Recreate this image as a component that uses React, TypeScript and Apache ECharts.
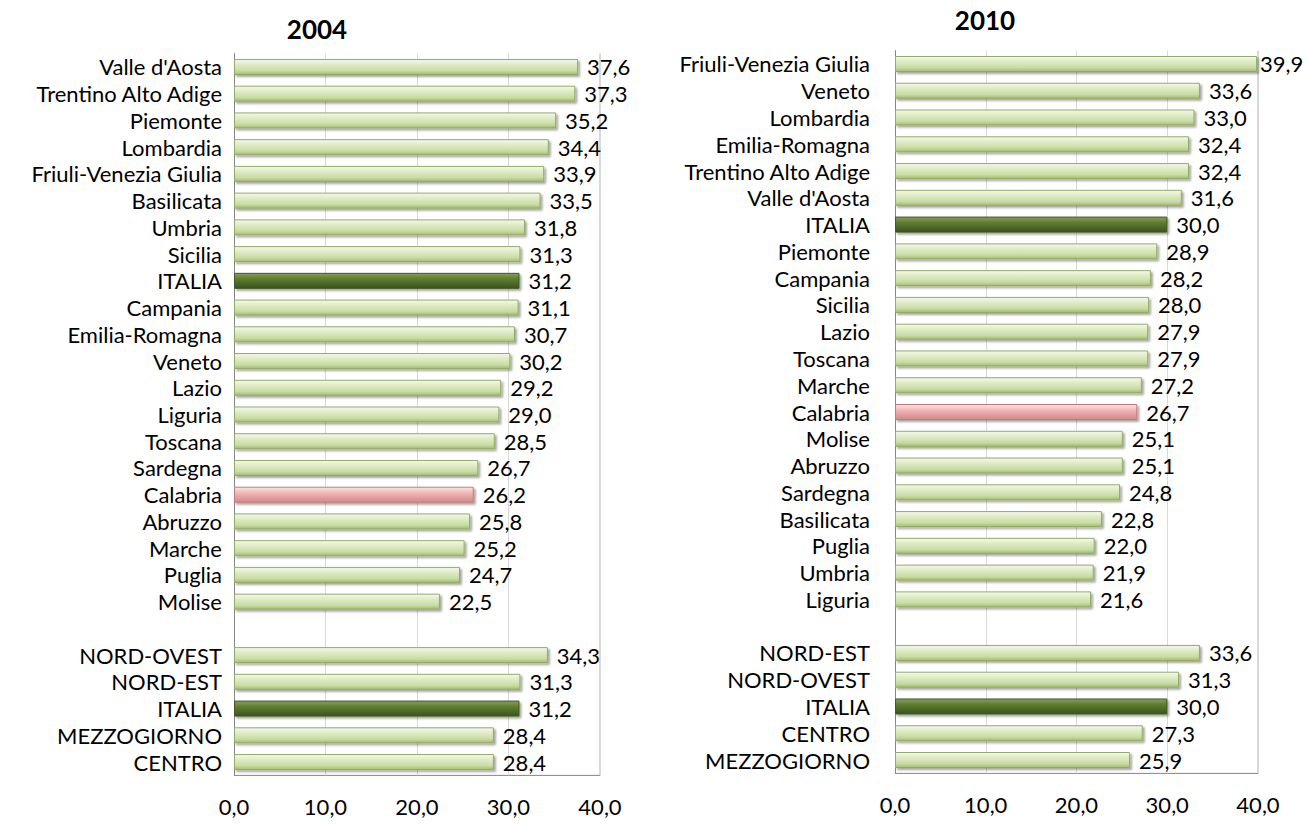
import React, { useEffect, useRef } from "react";
import * as echarts from "echarts";

const cats2004 = [
  "Valle d'Aosta", "Trentino Alto Adige", "Piemonte", "Lombardia", "Friuli-Venezia Giulia",
  "Basilicata", "Umbria", "Sicilia", "ITALIA", "Campania", "Emilia-Romagna", "Veneto",
  "Lazio", "Liguria", "Toscana", "Sardegna", "Calabria", "Abruzzo", "Marche", "Puglia",
  "Molise", "", "NORD-OVEST", "NORD-EST", "ITALIA", "MEZZOGIORNO", "CENTRO",
];
const vals2004 = [
  37.6, 37.3, 35.2, 34.4, 33.9, 33.5, 31.8, 31.3, 31.2, 31.1, 30.7, 30.2, 29.2, 29.0,
  28.5, 26.7, 26.2, 25.8, 25.2, 24.7, 22.5, null, 34.3, 31.3, 31.2, 28.4, 28.4,
];
const cats2010 = [
  "Friuli-Venezia Giulia", "Veneto", "Lombardia", "Emilia-Romagna", "Trentino Alto Adige",
  "Valle d'Aosta", "ITALIA", "Piemonte", "Campania", "Sicilia", "Lazio", "Toscana",
  "Marche", "Calabria", "Molise", "Abruzzo", "Sardegna", "Basilicata", "Puglia", "Umbria",
  "Liguria", "", "NORD-EST", "NORD-OVEST", "ITALIA", "CENTRO", "MEZZOGIORNO",
];
const vals2010 = [
  39.9, 33.6, 33.0, 32.4, 32.4, 31.6, 30.0, 28.9, 28.2, 28.0, 27.9, 27.9, 27.2, 26.7,
  25.1, 25.1, 24.8, 22.8, 22.0, 21.9, 21.6, null, 33.6, 31.3, 30.0, 27.3, 25.9,
];
const titles = ["2004", "2010"];
const axisMin = 0;
const axisMax = 40;
const axisStep = 10;

const FONT = "Lato";
const FS = 22;
const LH = 22;

function grad(stops: [number, string][]) {
  return new echarts.graphic.LinearGradient(0, 0, 0, 1,
    stops.map(([offset, color]) => ({ offset, color })));
}

function styleFor(name: string) {
  if (name === "ITALIA") {
    return {
      color: grad([[0, "#86a356"], [0.35, "#5f7f33"], [1, "#3b531d"]]),
      borderColor: "#3f5a20",
    };
  }
  if (name === "Calabria") {
    return {
      color: grad([[0, "#fde4e4"], [0.4, "#f2b4b4"], [1, "#cf8b8b"]]),
      borderColor: "#c07c7c",
    };
  }
  return {
    color: grad([[0, "#f4f9e8"], [0.35, "#dfebc4"], [0.75, "#c9dca2"], [1, "#a3bb77"]]),
    borderColor: "#93ab68",
  };
}

const fmt = (v: number) => v.toFixed(1).replace(".", ",");

function build(cats: string[], vals: (number | null)[], grid: any, yIdx: number, labelMargin: number) {
  return {
    grid,
    xAxis: {
      type: "value",
      gridIndex: yIdx,
      min: axisMin,
      max: axisMax,
      interval: axisStep,
      axisLine: { show: false },
      axisTick: { show: false },
      splitLine: { show: true, lineStyle: { color: "#d9d9d9", width: 1 } },
      axisLabel: {
        formatter: (v: number) => fmt(v),
        fontFamily: FONT,
        fontSize: FS,
        color: "#000",
        margin: 20,
        lineHeight: LH,
      },
    },
    yAxis: {
      type: "category",
      gridIndex: yIdx,
      inverse: true,
      data: cats,
      axisLine: { show: true, onZero: false, lineStyle: { color: "#868686" } },
      axisTick: { show: false },
      axisLabel: {
        fontFamily: FONT, fontSize: FS, color: "#000", margin: labelMargin,
        interval: 0, lineHeight: LH,
      },
    },
    series: {
      type: "bar",
      xAxisIndex: yIdx,
      yAxisIndex: yIdx,
      barWidth: 16,
      data: vals.map((v, i) => ({
        value: v,
        label: v != null && v > axisMax - 1 ? { distance: 3 } : undefined,
        itemStyle: {
          ...styleFor(cats[i]),
          borderWidth: 1,
          shadowColor: "rgba(0,0,0,0.35)",
          shadowBlur: 2,
          shadowOffsetX: 2,
          shadowOffsetY: 2,
        },
      })),
      label: {
        show: true,
        position: "right",
        distance: 9,
        fontFamily: FONT,
        fontSize: FS,
        lineHeight: LH,
        color: "#000",
        formatter: (p: any) => (p.value == null ? "" : fmt(p.value)),
      },
    },
  };
}

export default function App() {
  const ref = useRef<HTMLDivElement>(null);
  useEffect(() => {
    if (!ref.current) return;
    const chart = echarts.init(ref.current, null, { renderer: "svg" });
    const a = build(cats2004, vals2004, { left: 234, top: 53.6, width: 366, height: 721.8 }, 0, 12);
    const b = build(cats2010, vals2010, { left: 895, top: 50.6, width: 363, height: 722.8 }, 1, 25);
    chart.setOption({
      animation: false,
      backgroundColor: "#fff",
      grid: [a.grid, b.grid],
      xAxis: [a.xAxis, b.xAxis],
      yAxis: [a.yAxis, b.yAxis],
      series: [a.series, b.series],
      graphic: [
        {
          type: "text", x: 317, y: 29,
          style: { text: titles[0], font: `bold 26px ${FONT}`, fill: "#000", textAlign: "center", textVerticalAlign: "middle" },
        },
        {
          type: "text", x: 985, y: 20,
          style: { text: titles[1], font: `bold 26px ${FONT}`, fill: "#000", textAlign: "center", textVerticalAlign: "middle" },
        },
        {
          type: "line", shape: { x1: 234, y1: 775.4, x2: 600, y2: 775.4 },
          style: { stroke: "#868686", lineWidth: 1 },
        },
        {
          type: "line", shape: { x1: 600, y1: 53.6, x2: 600, y2: 775.4 },
          style: { stroke: "#b0b0b0", lineWidth: 1 },
        },
        {
          type: "line", shape: { x1: 895, y1: 773.4, x2: 1258, y2: 773.4 },
          style: { stroke: "#868686", lineWidth: 1 },
        },
        {
          type: "line", shape: { x1: 1258, y1: 50.6, x2: 1258, y2: 773.4 },
          style: { stroke: "#b0b0b0", lineWidth: 1 },
        },
      ],
    });
    return () => chart.dispose();
  }, []);
  return (
    <div
      ref={ref}
      style={{ position: "absolute", left: 0, top: 0, width: 1308, height: 826 }}
    />
  );
}
